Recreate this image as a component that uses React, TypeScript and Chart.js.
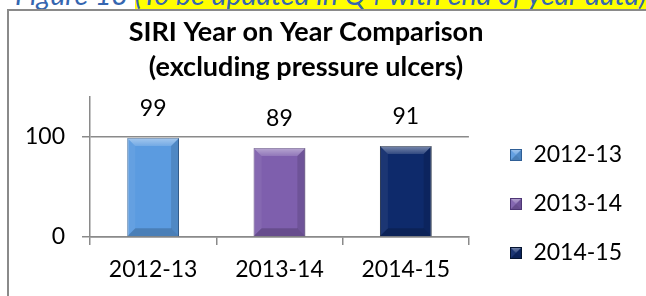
import React, { useEffect, useRef } from "react";
import { Chart, registerables } from "chart.js";

Chart.register(...registerables);

// ---- data ----
const categories = ["2012-13", "2013-14", "2014-15"];
const values = [99, 89, 91];
const seriesColors = ["#5B9BE0", "#7E5FAD", "#0E2A6B"];
const borderColors = ["#2F5F96", "#4E3675", "#05142F"];
const yTicksShown = [0, 100];
const yMax = 140;
const titleLines = ["SIRI Year on Year Comparison", "(excluding pressure ulcers)"];
const captionLead = "Figure 13 ";
const captionNote = "(To be updated in Q4 with end of year data)";

const FONT = "Lato, 'Open Sans', sans-serif";
const AXIS = "#8A8A8A";
const TXT = 23;

function drawBevel(ctx: CanvasRenderingContext2D, l: number, t: number, r: number, b: number, s: number) {
  const bb = Math.min(s, (r - l) / 2, (b - t) / 2);
  ctx.save();
  const g = ctx.createLinearGradient(0, t, 0, t + bb);
  g.addColorStop(0, "rgba(255,255,255,0.45)");
  g.addColorStop(1, "rgba(255,255,255,0.15)");
  ctx.fillStyle = g;
  ctx.beginPath();
  ctx.moveTo(l, t); ctx.lineTo(r, t); ctx.lineTo(r - bb, t + bb); ctx.lineTo(l + bb, t + bb); ctx.closePath();
  ctx.fill();
  ctx.fillStyle = "rgba(0,0,0,0.18)";
  ctx.beginPath();
  ctx.moveTo(l, b); ctx.lineTo(r, b); ctx.lineTo(r - bb, b - bb); ctx.lineTo(l + bb, b - bb); ctx.closePath();
  ctx.fill();
  ctx.fillStyle = "rgba(255,255,255,0.06)";
  ctx.beginPath();
  ctx.moveTo(l, t); ctx.lineTo(l + bb, t + bb); ctx.lineTo(l + bb, b - bb); ctx.lineTo(l, b); ctx.closePath();
  ctx.fill();
  ctx.fillStyle = "rgba(0,0,0,0.12)";
  ctx.beginPath();
  ctx.moveTo(r, t); ctx.lineTo(r - bb, t + bb); ctx.lineTo(r - bb, b - bb); ctx.lineTo(r, b); ctx.closePath();
  ctx.fill();
  ctx.restore();
}

function makeIcon(fill: string, border: string, size: number) {
  const c = document.createElement("canvas");
  c.width = size; c.height = size;
  const x = c.getContext("2d")!;
  x.fillStyle = fill;
  x.fillRect(0, 0, size, size);
  drawBevel(x, 0, 0, size, size, size / 2);
  x.strokeStyle = border;
  x.lineWidth = 1;
  x.strokeRect(0.5, 0.5, size - 1, size - 1);
  return c;
}

const bevelPlugin = {
  id: "bevel",
  afterDatasetsDraw(chart: any) {
    const ctx = chart.ctx;
    chart.data.datasets.forEach((ds: any, di: number) => {
      const meta = chart.getDatasetMeta(di);
      meta.data.forEach((el: any, i: number) => {
        if (ds.data[i] == null) return;
        const p = el.getProps(["x", "y", "base", "width"], true);
        drawBevel(ctx, p.x - p.width / 2, p.y, p.x + p.width / 2, p.base, 8);
      });
    });
  },
};

const valueLabelPlugin = {
  id: "valueLabels",
  afterDatasetsDraw(chart: any) {
    const ctx = chart.ctx;
    chart.data.datasets.forEach((ds: any, di: number) => {
      const meta = chart.getDatasetMeta(di);
      meta.data.forEach((el: any, i: number) => {
        const v = ds.data[i];
        if (v == null) return;
        const p = el.getProps(["x", "y"], true);
        ctx.save();
        ctx.font = `${TXT}px ${FONT}`;
        ctx.fillStyle = "#000";
        ctx.textAlign = "center";
        ctx.textBaseline = "middle";
        ctx.fillText(String(v), p.x, p.y - 29);
        ctx.restore();
      });
    });
  },
};

export default function App() {
  const ref = useRef<HTMLCanvasElement>(null);

  useEffect(() => {
    const canvas = ref.current!;
    const mctx = document.createElement("canvas").getContext("2d")!;
    mctx.font = `${TXT}px ${FONT}`;
    const tw = Math.max(...categories.map((c) => mctx.measureText(c).width));
    const R = 543.5 + tw;
    const L = Math.round(612 - R);
    const W = Math.round(R - L);
    canvas.width = W;
    canvas.height = 296;
    canvas.style.left = L + "px";
    canvas.style.width = W + "px";
    canvas.style.height = "296px";

    const icons = seriesColors.map((c, i) => makeIcon(c, borderColors[i], 12));

    const datasets = categories.map((cat, i) => ({
      label: cat,
      data: categories.map((_, j) => (j === i ? values[i] : null)),
      backgroundColor: seriesColors[i],
      borderColor: borderColors[i],
      borderWidth: 1,
      yAxisID: "y",
    }));

    const chart = new Chart(canvas, {
      type: "bar",
      data: { labels: categories, datasets },
      plugins: [bevelPlugin, valueLabelPlugin],
      options: {
        responsive: false,
        animation: false,
        maintainAspectRatio: false,
        layout: { padding: { top: 0, left: 0, right: 0, bottom: 5.5 } },
        datasets: { bar: { categoryPercentage: 1, barPercentage: 0.41 } } as any,
        plugins: {
          tooltip: { enabled: false },
          title: {
            display: true,
            text: titleLines,
            color: "#000",
            font: { family: FONT, size: 27, weight: "bold", lineHeight: "35px" } as any,
            padding: { top: 14.5, bottom: 12.5 },
          },
          legend: {
            position: "right",
            align: "end",
            maxWidth: 400,
            labels: {
              color: "#000",
              font: { family: FONT, size: TXT },
              boxWidth: 12,
              boxHeight: 12,
              padding: 26,
              usePointStyle: true,
              generateLabels: (ch: any) => {
                const items = (Chart as any).defaults.plugins.legend.labels.generateLabels(ch);
                items.forEach((it: any) => {
                  it.pointStyle = icons[it.datasetIndex];
                });
                return items;
              },
            },
          } as any,
        },
        scales: {
          x: {
            stacked: true,
            grid: { display: true, drawOnChartArea: false, drawTicks: true, tickLength: 8, color: AXIS, lineWidth: 1.5, offset: true },
            border: { display: true, color: AXIS, width: 1.5 },
            ticks: { color: "#000", font: { family: FONT, size: TXT }, padding: 11, maxRotation: 0, autoSkip: false },
            afterFit: (s: any) => { s.height = 53.5; },
          },
          y: {
            stacked: true,
            min: 0,
            max: yMax,
            ticks: { stepSize: 100, color: "#000", font: { family: FONT, size: TXT }, padding: 17 },
            afterBuildTicks: (s: any) => { s.ticks = s.ticks.filter((t: any) => yTicksShown.includes(t.value)); },
            grid: { color: AXIS, lineWidth: 1.5, tickLength: 8, drawTicks: true },
            border: { color: AXIS, width: 1.5 },
            afterFit: (s: any) => { s.width = 90 - L; },
          },
          yR: {
            type: "linear",
            position: "right",
            display: true,
            grid: { display: false, drawTicks: false },
            border: { display: false },
            ticks: { display: false },
            afterFit: (s: any) => { s.width = 15; },
          },
        } as any,
      },
    });
    return () => chart.destroy();
  }, []);

  return (
    <div style={{ position: "fixed", left: 0, top: 0, width: 646, height: 296, overflow: "hidden", background: "#fff" }}>
      <div
        style={{
          position: "absolute",
          left: 15,
          top: -23,
          whiteSpace: "nowrap",
          font: `italic 28.5px/34px ${FONT}`,
          color: "#3566B0",
        }}
      >
        <span>{captionLead}</span>
        <span style={{ background: "#FFFF00" }}>{captionNote}</span>
      </div>
      <div style={{ position: "absolute", left: 7, top: 9, width: 700, height: 400, border: `2px solid ${AXIS}` }} />
      <canvas ref={ref} style={{ position: "absolute", top: 0 }} />
    </div>
  );
}
